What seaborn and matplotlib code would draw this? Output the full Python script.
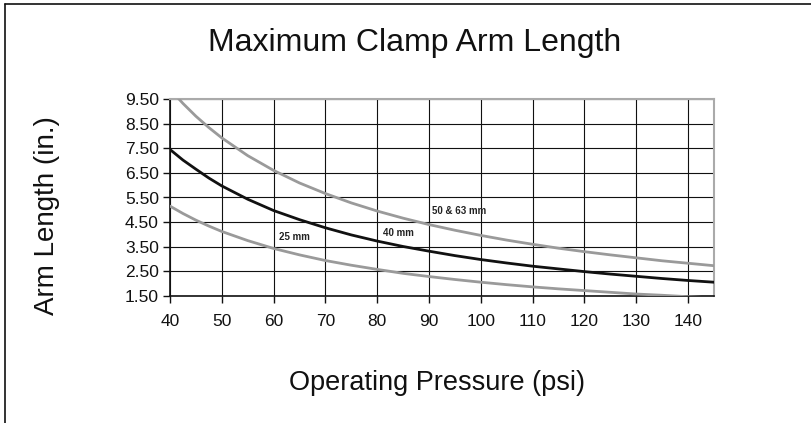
import matplotlib
matplotlib.use("Agg")
import matplotlib.pyplot as plt
import matplotlib.lines as mlines
import seaborn as sns
import pandas as pd

# ---- data ----
pressure = [40, 42.5, 45, 47.5, 50, 55, 60, 65, 70, 75, 80, 85, 90, 95, 100, 105, 110,
            115, 120, 125, 130, 135, 140, 145]
arm_50_63 = [9.90, 9.32, 8.80, 8.34, 7.92, 7.20, 6.60, 6.09, 5.66, 5.28, 4.95, 4.66, 4.40,
             4.17, 3.96, 3.77, 3.60, 3.44, 3.30, 3.17, 3.05, 2.93, 2.83, 2.73]
arm_40 = [7.45, 7.02, 6.65, 6.29, 5.97, 5.43, 4.97, 4.60, 4.27, 3.98, 3.73, 3.51, 3.32,
          3.14, 2.98, 2.84, 2.71, 2.60, 2.49, 2.39, 2.30, 2.21, 2.13, 2.06]
arm_25 = [5.15, 4.85, 4.58, 4.34, 4.12, 3.75, 3.43, 3.17, 2.94, 2.75, 2.58, 2.42, 2.29,
          2.17, 2.06, 1.96, 1.87, 1.79, 1.72, 1.65, 1.58, 1.53, 1.47, 1.42]
series_labels = ["25 mm", "40 mm", "50 & 63 mm"]
label_pos_x = [64.1, 84.0, 95.8]
label_pos_y = [3.91, 4.06, 4.95]
x_ticks = [40, 50, 60, 70, 80, 90, 100, 110, 120, 130, 140]
y_ticks = [1.5, 2.5, 3.5, 4.5, 5.5, 6.5, 7.5, 8.5, 9.5]

title = "Maximum Clamp Arm Length"
xlabel = "Operating Pressure (psi)"
ylabel = "Arm Length (in.)"

sns.set_style("white")
plt.rcParams["font.family"] = ["Liberation Sans", "DejaVu Sans"]

fig = plt.figure(figsize=(8.12, 4.23), dpi=100)
ax = fig.add_axes([170 / 812, 1 - 296 / 423, (714 - 170) / 812, (296 - 99) / 423])

df = pd.DataFrame({
    "p": pressure * 3,
    "len": arm_25 + arm_40 + arm_50_63,
    "s": ["25"] * len(pressure) + ["40"] * len(pressure) + ["50"] * len(pressure),
})
palette = {"25": "#9a9a9a", "40": "#111111", "50": "#9a9a9a"}
sns.lineplot(data=df, x="p", y="len", hue="s", palette=palette, linewidth=2.0,
             legend=False, ax=ax, zorder=3)

ax.set_xlim(40, 145)
ax.set_ylim(1.5, 9.5)
ax.set_xticks(x_ticks)
ax.set_yticks(y_ticks)
ax.set_yticklabels([f"{v:.2f}" for v in y_ticks])
ax.grid(True, color="#111111", linewidth=0.8)
ax.set_axisbelow(True)
ax.tick_params(axis="both", labelsize=12.5, length=5, width=1, color="#111111",
               direction="out", bottom=True, left=True, pad=3, labelcolor="#111111")
ax.tick_params(axis="x", pad=8)
ax.set_xlabel("")
ax.set_ylabel("")
for side in ["left", "bottom"]:
    ax.spines[side].set_color("#111111")
    ax.spines[side].set_linewidth(1.2)
for side in ["top", "right"]:
    ax.spines[side].set_color("#aaaaaa")
    ax.spines[side].set_linewidth(1.5)

for lab, x, y in zip(series_labels, label_pos_x, label_pos_y):
    ax.text(x, y, lab, fontsize=7, fontweight="bold", color="#222222",
            ha="center", va="center", zorder=4)

fig.text(415 / 812, 1 - 51 / 423, title, fontsize=23, ha="center",
         va="baseline", color="#111111")
fig.text(437 / 812, 1 - 390 / 423, xlabel, fontsize=19.5, ha="center",
         va="baseline", color="#111111")
fig.text(47 / 812, 1 - 216 / 423, ylabel, fontsize=20, ha="center",
         va="center", rotation=90, color="#111111")

# figure frame: left and top edges
fig.add_artist(mlines.Line2D([5 / 812, 5 / 812], [0, 1 - 4 / 423],
                             transform=fig.transFigure, color="#111111", lw=1.2))
fig.add_artist(mlines.Line2D([5 / 812, 1], [1 - 4 / 423, 1 - 4 / 423],
                             transform=fig.transFigure, color="#111111", lw=1.2))

fig.savefig("out.png", dpi=100)
